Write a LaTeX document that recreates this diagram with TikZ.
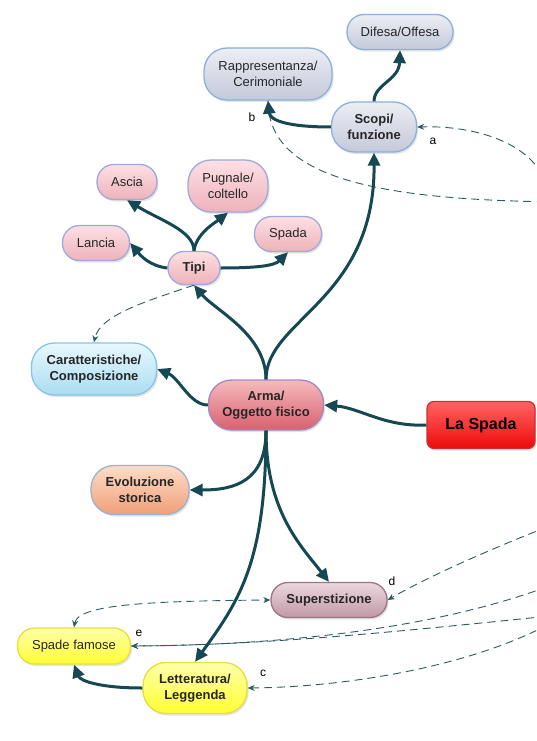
\documentclass[tikz,border=0pt]{standalone}
\usepackage{fontspec}
\setmainfont{Liberation Sans}
\usepackage{xcolor}
\usepackage{tikz}
\usetikzlibrary{arrows.meta,shadows}
\definecolor{linkteal}{RGB}{21,72,82}
\definecolor{dashteal}{RGB}{44,92,98}
\definecolor{inkgray}{RGB}{38,38,38}
\definecolor{greytop}{RGB}{236,238,244}
\definecolor{greybot}{RGB}{196,201,218}
\definecolor{greyrim}{RGB}{140,176,220}
\definecolor{pinktop}{RGB}{252,224,227}
\definecolor{pinkbot}{RGB}{238,178,186}
\definecolor{pinkrim}{RGB}{160,168,220}
\definecolor{skytop}{RGB}{232,248,253}
\definecolor{skybot}{RGB}{170,220,242}
\definecolor{skyrim}{RGB}{134,196,232}
\definecolor{armatop}{RGB}{246,186,190}
\definecolor{armabot}{RGB}{216,96,110}
\definecolor{armarim}{RGB}{160,136,196}
\definecolor{redtop}{RGB}{255,100,100}
\definecolor{redbot}{RGB}{238,10,10}
\definecolor{redrim}{RGB}{200,50,50}
\definecolor{peachtop}{RGB}{253,220,200}
\definecolor{peachbot}{RGB}{240,160,120}
\definecolor{peachrim}{RGB}{156,178,212}
\definecolor{mauvetop}{RGB}{236,216,222}
\definecolor{mauvebot}{RGB}{192,152,166}
\definecolor{mauverim}{RGB}{158,116,130}
\definecolor{yellowtop}{RGB}{255,255,170}
\definecolor{yellowbot}{RGB}{255,255,50}
\definecolor{yellowrim}{RGB}{230,224,60}

\begin{document}
\begin{tikzpicture}[x=1pt, y=-1pt,
  idea/.style={draw, line width=1.3pt, rounded corners=17pt, align=center, inner sep=2pt,
    text=inkgray, font=\fontsize{13}{15.5}\selectfont,
    drop shadow={opacity=0.22, shadow xshift=1.5pt, shadow yshift=-2pt}},
  boldidea/.style={idea, font=\fontsize{13}{15.5}\selectfont\bfseries},
  tall/.style={rounded corners=23pt},
  greyidea/.style={top color=greytop, bottom color=greybot, draw=greyrim},
  pinkidea/.style={top color=pinktop, bottom color=pinkbot, draw=pinkrim},
  skyidea/.style={top color=skytop, bottom color=skybot, draw=skyrim},
  armaidea/.style={top color=armatop, bottom color=armabot, draw=armarim},
  redidea/.style={top color=redtop, bottom color=redbot, draw=redrim, rounded corners=7pt},
  peachidea/.style={top color=peachtop, bottom color=peachbot, draw=peachrim},
  mauveidea/.style={top color=mauvetop, bottom color=mauvebot, draw=mauverim},
  yellowidea/.style={top color=yellowtop, bottom color=yellowbot, draw=yellowrim},
  link/.style={-{Triangle[length=13pt,width=12pt]}, line width=3pt, draw=linkteal},
  crossline/.style={dash pattern=on 8pt off 5pt, line width=0.9pt, draw=dashteal},
  crosslink/.style={crossline, -{Stealth[length=7pt,width=6pt]}},
  tag/.style={inner sep=0pt, font=\fontsize{12}{12}\selectfont}
]
\useasboundingbox (0,0) rectangle (536,741);
\clip (0,0) rectangle (536,741);

% concepts
\node[boldidea, tall, greyidea, minimum width=85pt, minimum height=50pt] (scopi) at (374,127) {Scopi/\\funzione};
\node[idea, greyidea, minimum width=106pt, minimum height=35pt] (difesa) at (400,32) {Difesa/Offesa};
\node[idea, tall, greyidea, minimum width=128pt, minimum height=52pt] (rapp) at (268,74) {Rappresentanza/\\Cerimoniale};

\node[boldidea, pinkidea, rounded corners=16pt, minimum width=52pt, minimum height=33pt] (tipi) at (194,268) {Tipi};
\node[idea, pinkidea, minimum width=60pt, minimum height=35pt] (ascia) at (127,182) {Ascia};
\node[idea, tall, pinkidea, minimum width=80pt, minimum height=52pt] (pugnale) at (228,186) {Pugnale/\\coltello};
\node[idea, pinkidea, minimum width=67pt, minimum height=35pt] (lancia) at (96,243) {Lancia};
\node[idea, pinkidea, minimum width=67pt, minimum height=35pt] (spada) at (288,234) {Spada};

\node[boldidea, tall, skyidea, minimum width=125pt, minimum height=52pt] (carat) at (94,369) {Caratteristiche/\\Composizione};
\node[boldidea, tall, armaidea, minimum width=115pt, minimum height=50pt] (arma) at (266,405) {Arma/\\Oggetto fisico};
\node[boldidea, redidea, minimum width=108pt, minimum height=47pt, font=\fontsize{16}{18}\selectfont\bfseries, text=black] (laspada) at (481,425) {La Spada};
\node[boldidea, tall, peachidea, minimum width=98pt, minimum height=49pt] (evol) at (140,490) {Evoluzione\\storica};
\node[boldidea, mauveidea, minimum width=116pt, minimum height=35pt] (superst) at (329,600) {Superstizione};
\node[idea, yellowidea, minimum width=113pt, minimum height=36pt] (famose) at (74,646) {Spade famose};
\node[boldidea, tall, yellowidea, minimum width=104pt, minimum height=51pt] (lett) at (195,688) {Letteratura/\\Leggenda};

% cross links leaving the page
\coordinate (offa) at (548,200);
\coordinate (offb) at (560,202);
\coordinate (offd) at (560,522);
\coordinate (offe) at (560,582);
\coordinate (offf) at (560,615);
\coordinate (offc) at (560,618);

\draw[crosslink] (offa) .. controls +(0,-50) and +(68,-2) .. (scopi.east);
\draw[crossline] (rapp.south) .. controls +(0,75) and +(-190,-2) .. (offb);
\draw[crosslink] (offd) .. controls +(-60,23) and +(43,-25) .. (superst.east);
\draw[crosslink] (offe) .. controls +(-110,43) and +(170,-1) .. (famose.east);
\draw[crosslink] (offf) .. controls +(-130,13) and +(150,-1) .. (famose.east);
\draw[crosslink] (offc) .. controls +(-80,47) and +(103,-1) .. (lett.east);
\draw[crossline, {Stealth[length=7pt,width=6pt]}-{Stealth[length=7pt,width=6pt]}] (famose.north) .. controls +(4,-23) and +(-121,1) .. (superst.west);
\draw[crosslink] (tipi.south) .. controls +(-44,15) and +(6,-28) .. (carat.north);

\node[tag] (taga) at (433,141) {a};
\node[tag] (tagb) at (252,117) {b};
\node[tag] (tagc) at (263,673) {c};
\node[tag] (tagd) at (392,581) {d};
\node[tag] (tage) at (139,633) {e};

% links
\draw[link] (laspada.west) .. controls +(-42,2) and +(36,3) .. (arma.east);
\draw[link] (arma.north) .. controls +(0,-45) and +(21,25) .. (tipi.south);
\draw[link] (arma.north) .. controls +(0,-60) and +(1,148) .. (scopi.south);
\draw[link] (arma.west) .. controls +(-18,0) and +(22,9) .. (carat.east);
\draw[link] (arma.south) .. controls +(0,50) and +(46,0) .. (evol.east);
\draw[link] (arma.south) .. controls +(0,80) and +(-29,-37) .. (superst.north);
\draw[link] (arma.south) .. controls +(0,130) and +(45,-62) .. (lett.north);
\draw[link] (lett.west) .. controls +(-43,0) and +(6,16) .. (famose.south);
\draw[link] (tipi.north) .. controls +(0,-20) and +(33,20) .. (ascia.south);
\draw[link] (tipi.north) .. controls +(2,-17) and +(-13,10) .. (pugnale.south);
\draw[link] (tipi.west) .. controls +(-18,-2) and +(10,12) .. (lancia.east);
\draw[link] (tipi.east) .. controls +(40,0) and +(-13,13) .. (spada.south);
\draw[link] (scopi.west) .. controls +(-42,0) and +(2,20) .. (rapp.south);
\draw[link] (scopi.north) .. controls +(0,-17) and +(-1,30) .. (difesa.south);
\end{tikzpicture}
\end{document}
